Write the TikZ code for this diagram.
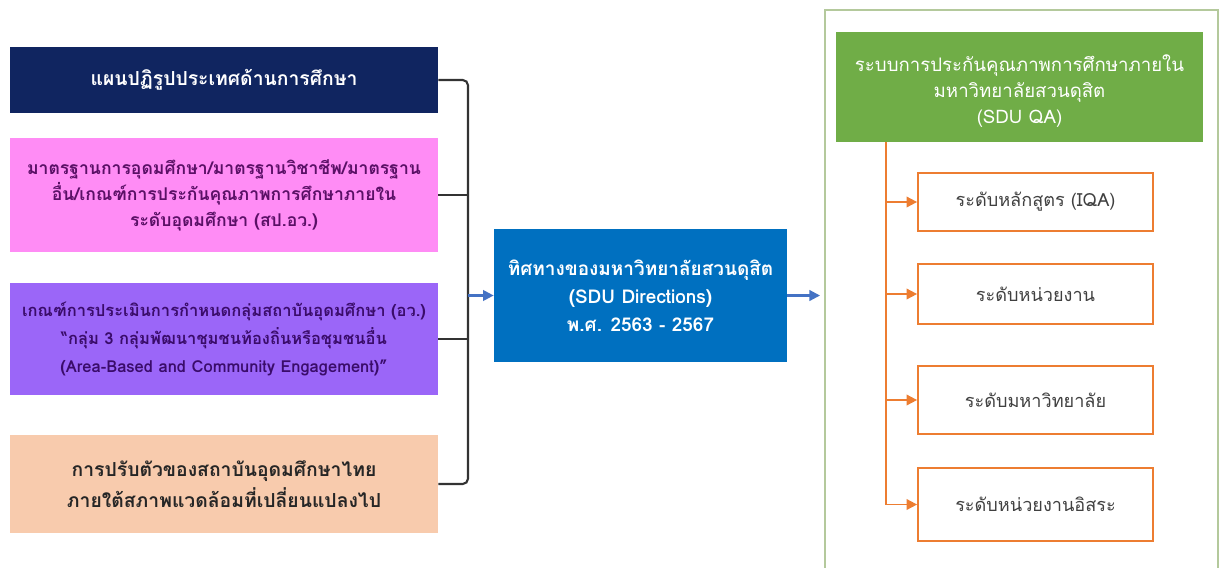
\documentclass[tikz,border=0pt]{standalone}
\usepackage{fontspec}
\newfontfamily\thaifont[Script=Thai]{Loma}
\usetikzlibrary{arrows.meta}

\definecolor{planblue}{HTML}{102560}
\definecolor{stdpink}{HTML}{FF8CF5}
\definecolor{critpurple}{HTML}{9B66F8}
\definecolor{adaptpeach}{HTML}{F8CBAD}
\definecolor{dirblue}{HTML}{0070C0}
\definecolor{qagreen}{HTML}{70AD47}
\definecolor{lvlorange}{HTML}{ED7D31}
\definecolor{panelgreen}{HTML}{B4C99C}
\definecolor{linkblue}{HTML}{4472C4}
\definecolor{darkpink}{HTML}{5A1066}
\definecolor{darkviolet}{HTML}{3A0C6A}
\definecolor{lvltext}{HTML}{404040}

\tikzset{
  srcbox/.style={minimum width=8.56cm, text width=8.4cm, align=center, inner sep=2pt},
  lvlbox/.style={draw=lvlorange, line width=1pt, fill=white, minimum width=4.7cm,
    align=center, text=lvltext, font=\thaifont\fontsize{10.3}{14}\selectfont},
  bracket/.style={draw=black!80, line width=1.2pt, rounded corners=3pt},
  link/.style={draw=linkblue, line width=1.2pt, -{Triangle[length=6pt,width=6pt]}},
  branch/.style={draw=lvlorange, line width=1pt, -{Triangle[length=6pt,width=6pt]}}
}

\begin{document}
\begin{tikzpicture}
\useasboundingbox (0,0) rectangle (24.4,-11.34);
\fill[white] (0,0) rectangle (24.4,-11.34);

% left column
\node[srcbox, fill=planblue, text=white, minimum height=1.32cm,
  font=\thaifont\bfseries\fontsize{11}{15}\selectfont] (plan) at (4.48,-1.60)
  {แผนปฏิรูปประเทศด้านการศึกษา};
\node[srcbox, fill=stdpink, text=darkpink, minimum height=2.28cm,
  font=\thaifont\bfseries\fontsize{10}{14.8}\selectfont] (std) at (4.48,-3.90)
  {มาตรฐานการอุดมศึกษา/มาตรฐานวิชาชีพ/มาตรฐาน\\อื่น/เกณฑ์การประกันคุณภาพการศึกษาภายใน\\ระดับอุดมศึกษา (สป.อว.)};
\node[srcbox, fill=critpurple, text=darkviolet, minimum height=2.24cm,
  font=\thaifont\bfseries\fontsize{9.4}{16.2}\selectfont] (crit) at (4.48,-6.78)
  {เกณฑ์การประเมินการกำหนดกลุ่มสถาบันอุดมศึกษา (อว.)\\“กลุ่ม 3 กลุ่มพัฒนาชุมชนท้องถิ่นหรือชุมชนอื่น\\(Area-Based and Community Engagement)”};
\node[srcbox, fill=adaptpeach, text=black!85, minimum height=1.96cm,
  font=\thaifont\bfseries\fontsize{11}{18}\selectfont] (adapt) at (4.48,-9.68)
  {การปรับตัวของสถาบันอุดมศึกษาไทย\\ภายใต้สภาพแวดล้อมที่เปลี่ยนแปลงไป};

\coordinate (bracktop) at (9.36,-1.60);
\coordinate (brackbot) at (9.36,-9.68);
\draw[bracket] (plan.east) -- (bracktop) -- (brackbot) -- (adapt.east);
\draw[bracket] (std.east) -- (std.east -| bracktop);
\draw[bracket] (crit.east) -- (crit.east -| bracktop);

% middle
\node[fill=dirblue, text=white, minimum width=5.86cm, minimum height=2.66cm, align=center,
  font=\thaifont\bfseries\fontsize{10.8}{16}\selectfont] (dir) at (12.81,-5.91)
  {ทิศทางของมหาวิทยาลัยสวนดุสิต\\(SDU Directions)\\พ.ศ. 2563 - 2567};
\draw[link] (dir.west -| bracktop) -- (dir.west);

% right panel
\draw[panelgreen, line width=1pt] (16.5,-12) -- (16.5,-0.2) -- (24.36,-0.2) -- (24.36,-12);
\coordinate (panelin) at (16.4,-5.91);
\draw[link] (dir.east) -- (panelin);

\node[fill=qagreen, text=white, minimum width=7.34cm, minimum height=2.2cm, align=center,
  font=\thaifont\fontsize{10.6}{14.8}\selectfont] (qa) at (20.39,-1.74)
  {\rule{0pt}{1.35em}ระบบการประกันคุณภาพการศึกษาภายใน\\มหาวิทยาลัยสวนดุสิต\\(SDU QA)};

\node[lvlbox, minimum height=1.16cm] (course) at (20.71,-4.04) {ระดับหลักสูตร (IQA)};
\node[lvlbox, minimum height=1.20cm] (unit) at (20.71,-5.88) {ระดับหน่วยงาน};
\node[lvlbox, minimum height=1.36cm] (univ) at (20.71,-8.00) {ระดับมหาวิทยาลัย};
\node[lvlbox, minimum height=1.46cm] (indep) at (20.71,-10.09) {ระดับหน่วยงานอิสระ};

\coordinate (trunktop) at (17.72,-2.84);
\draw[lvlorange, line width=1pt] (trunktop) -- (trunktop |- indep.west);
\foreach \lvl in {course,unit,univ,indep}
  \draw[branch] (trunktop |- \lvl.west) -- (\lvl.west);

\end{tikzpicture}
\end{document}
